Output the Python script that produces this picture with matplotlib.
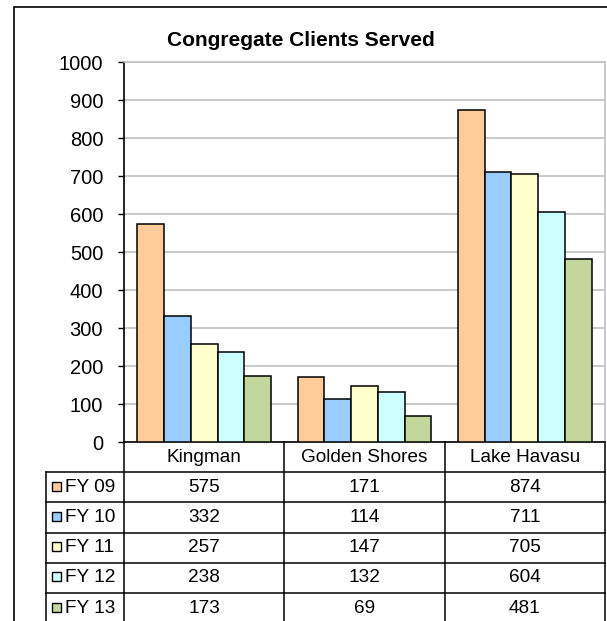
import numpy as np
import matplotlib.pyplot as plt
from matplotlib.patches import Rectangle
from matplotlib.lines import Line2D

plt.rcParams['font.family'] = ['Liberation Sans', 'DejaVu Sans']

# Data
sites = ["Kingman", "Golden Shores", "Lake Havasu"]
years = ["FY 09", "FY 10", "FY 11", "FY 12", "FY 13"]
fy09 = [575, 171, 874]
fy10 = [332, 114, 711]
fy11 = [257, 147, 705]
fy12 = [238, 132, 604]
fy13 = [173, 69, 481]
series = [fy09, fy10, fy11, fy12, fy13]
colors = ["#FFCC99", "#99CCFF", "#FFFFCC", "#CCFFFF", "#C3D69B"]

W, H = 607, 621
fig = plt.figure(figsize=(W / 100, H / 100), dpi=100)

# outer chart frame (cropped on right and bottom)
fig.patches.append(Rectangle((14 / W, -0.1), 1.2, 1 - 7 / H + 0.1, transform=fig.transFigure,
                             fill=False, edgecolor="black", linewidth=1.2))

left, right, top, bottom = 124, 605, 62, 442
ax = fig.add_axes([left / W, 1 - bottom / H, (right - left) / W, (bottom - top) / H])

x = np.arange(len(sites))
bw = 0.167
for i, vals in enumerate(series):
    ax.bar(x + (i - 2) * bw, vals, bw, color=colors[i], edgecolor="black", linewidth=1.1, zorder=3)

ax.set_xlim(-0.5, 2.5)
ax.set_ylim(0, 1000)
ax.set_yticks(range(0, 1001, 100))
ax.set_xticks([])
ax.tick_params(axis="y", labelsize=14.5, length=4.5, width=1, direction="out", pad=10.5)
ax.grid(axis="y", color="#C0C0C0", linewidth=1.2, zorder=0)
for s in ["top", "right"]:
    ax.spines[s].set_color("#C0C0C0")
    ax.spines[s].set_linewidth(1.2)
for s in ["left", "bottom"]:
    ax.spines[s].set_linewidth(1.2)

fig.text(301 / W, 1 - 40 / H, "Congregate Clients Served", ha="center", va="center",
         fontsize=15, fontweight="bold")

# data table under the axis
ph = bottom - top
pw = right - left
row_h = 30.2 / ph
lab_x = (46 - left) / pw
tr = ax.transAxes
kw = dict(transform=tr, color="black", linewidth=1.1, clip_on=False)

for c in range(len(sites) + 1):
    cx = c / len(sites)
    ax.add_line(Line2D([cx, cx], [0, -row_h * 8], **kw))
    if c < len(sites):
        ax.text(cx + 0.5 / len(sites), -row_h / 2, sites[c], transform=tr, ha="center",
                va="center", fontsize=13.7)
ax.add_line(Line2D([lab_x, lab_x], [-row_h, -row_h * 8], **kw))
for r in range(1, len(years) + 2):
    ax.add_line(Line2D([lab_x, 1], [-row_h * r, -row_h * r], **kw))

for r, (yr, vals) in enumerate(zip(years, series)):
    yc = -row_h * (r + 1.5)
    key_w = 9 / pw
    key_h = 9 / ph
    ax.add_patch(Rectangle((lab_x + 6 / pw, yc - key_h / 2 + 1 / ph), key_w, key_h,
                           transform=tr, facecolor=colors[r], edgecolor="black",
                           linewidth=1, clip_on=False))
    ax.text(lab_x + 19 / pw, yc, yr, transform=tr, ha="left", va="center", fontsize=13.7)
    for c, v in enumerate(vals):
        ax.text((c + 0.5) / len(sites), yc, str(v), transform=tr, ha="center", va="center",
                fontsize=13.7)

fig.savefig("out.png", dpi=100)
